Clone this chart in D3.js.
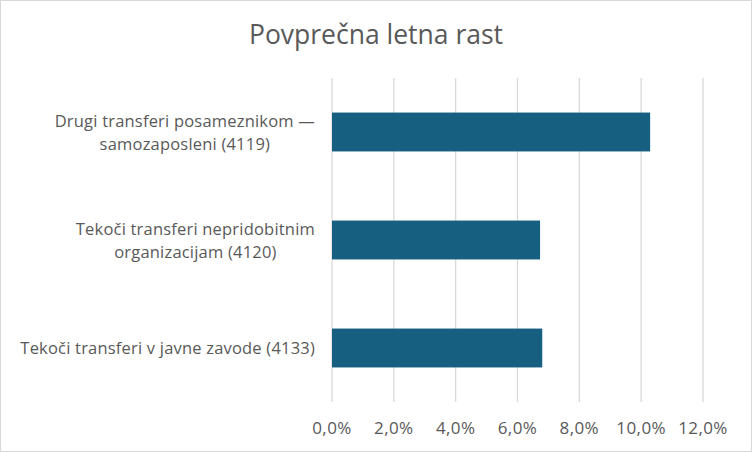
<!DOCTYPE html>
<html>
<head>
<meta charset="utf-8">
<script src="https://cdn.jsdelivr.net/npm/d3@7"></script>
<style>
  body { margin: 0; background: #fff; }
  svg { display: block; }
</style>
</head>
<body>
<script>
var categories = [
  ["Drugi transferi posameznikom \u2014", "samozaposleni (4119)"],
  ["Tekoči transferi nepridobitnim", "organizacijam (4120)"],
  ["Tekoči transferi v javne zavode (4133)"]
];
var values = [0.1029, 0.0673, 0.0680];
var ticks = [0, 0.02, 0.04, 0.06, 0.08, 0.10, 0.12];

var width = 752, height = 452;
var plotLeft = 332, plotRight = 703, plotTop = 78, plotBottom = 402;

var svg = d3.select("body").append("svg").attr("width", width).attr("height", height);

svg.append("rect")
  .attr("x", 0.5).attr("y", 0.5)
  .attr("width", width - 1).attr("height", height - 1)
  .attr("fill", "#fff").attr("stroke", "#d9d9d9");

svg.append("text")
  .attr("x", width / 2).attr("y", 44)
  .attr("text-anchor", "middle")
  .attr("font-family", "'Open Sans', sans-serif")
  .attr("font-size", 26.5)
  .attr("fill", "#595959")
  .text("Povprečna letna rast");

var x = d3.scaleLinear().domain([0, 0.12]).range([plotLeft, plotRight]);
var y = d3.scaleBand().domain(d3.range(categories.length)).range([plotTop, plotBottom])
  .paddingInner(0.64).paddingOuter(0.32);

// gridlines
svg.selectAll("line.grid").data(ticks).enter().append("line")
  .attr("class", "grid")
  .attr("x1", function(d) { return x(d); })
  .attr("x2", function(d) { return x(d); })
  .attr("y1", plotTop).attr("y2", plotBottom)
  .attr("stroke", "#d9d9d9").attr("stroke-width", 1.3);

// bars
svg.selectAll("rect.bar").data(values).enter().append("rect")
  .attr("class", "bar")
  .attr("x", x(0))
  .attr("y", function(d, i) { return y(i); })
  .attr("width", function(d) { return x(d) - x(0); })
  .attr("height", y.bandwidth())
  .attr("fill", "#175f80");

// x axis labels
var fmt = function(d) { return (d * 100).toFixed(1).replace(".", ",") + "%"; };
svg.selectAll("text.tick").data(ticks).enter().append("text")
  .attr("class", "tick")
  .attr("x", function(d) { return x(d); })
  .attr("y", 434)
  .attr("text-anchor", "middle")
  .attr("font-family", "'Open Sans', sans-serif")
  .attr("font-size", 17)
  .attr("letter-spacing", 0.4)
  .attr("fill", "#595959")
  .text(fmt);

// category labels, centred per block, right edge at 315
var lineH = 23;
categories.forEach(function(lines, i) {
  var cy = y(i) + y.bandwidth() / 2;
  var t = svg.append("g").selectAll("text").data(lines).enter().append("text")
    .attr("y", function(d, j) { return cy + (j - (lines.length - 1) / 2) * lineH + 6; })
    .attr("text-anchor", "middle")
    .attr("font-family", "'Open Sans', sans-serif")
    .attr("font-size", 16.5)
    .attr("letter-spacing", 0.2)
    .attr("fill", "#595959")
    .text(function(d) { return d; });
  var maxW = d3.max(t.nodes(), function(n) { return n.getComputedTextLength(); });
  t.attr("x", 315 - maxW / 2);
});
</script>
</body>
</html>
